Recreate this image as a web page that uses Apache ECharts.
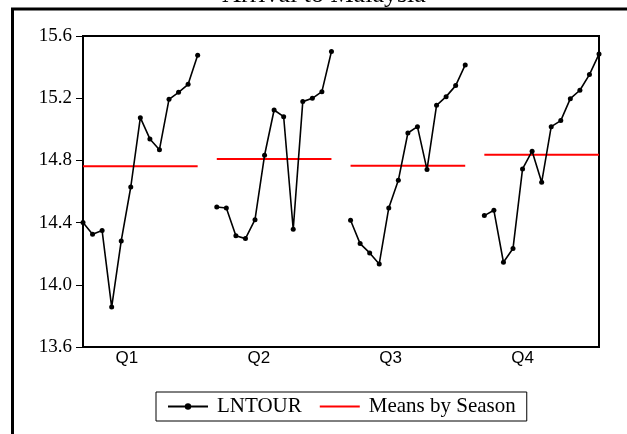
<!DOCTYPE html>
<html>
<head>
<meta charset="utf-8">
<script src="https://cdn.jsdelivr.net/npm/echarts@6/dist/echarts.min.js"></script>
<style>
    html, body { margin: 0; padding: 0; background: #fff; }
    #chartEcharts { width: 627px; height: 434px; }
</style>
</head>
<body>
<div id="chartEcharts"></div>
<script>
// Data
const quarters = ['Q1', 'Q2', 'Q3', 'Q4'];
const lntourQ1 = [14.40, 14.325, 14.349, 13.857, 14.282, 14.629, 15.075, 14.938, 14.869, 15.193, 15.238, 15.289, 15.476];
const lntourQ2 = [14.50, 14.494, 14.316, 14.297, 14.419, 14.833, 15.124, 15.081, 14.357, 15.178, 15.199, 15.242, 15.50];
const lntourQ3 = [14.415, 14.265, 14.205, 14.134, 14.494, 14.672, 14.976, 15.017, 14.741, 15.154, 15.21, 15.281, 15.414];
const lntourQ4 = [14.445, 14.479, 14.145, 14.233, 14.745, 14.859, 14.659, 15.017, 15.056, 15.197, 15.251, 15.352, 15.484];
const seasonMeans = [14.762, 14.809, 14.766, 14.837];
const quarterLabelPos = [4.6, 18.4, 32.2, 46.0];
const groupOffset = 14;

const lntour = [lntourQ1, lntourQ2, lntourQ3, lntourQ4];

let myChart = echarts.init(document.getElementById('chartEcharts'));

let series = [];
for (let i = 0; i < quarters.length; i++) {
    const start = i * groupOffset;
    series.push({
        name: 'LNTOUR',
        type: 'line',
        data: lntour[i].map((v, j) => [start + j, v]),
        symbol: 'circle',
        symbolSize: 5,
        itemStyle: { color: '#000' },
        lineStyle: { color: '#000', width: 1.6 },
        silent: true,
        z: 3
    });
    series.push({
        name: 'Means by Season',
        type: 'line',
        data: [[start, seasonMeans[i]], [start + lntour[i].length - 1, seasonMeans[i]]],
        symbol: 'none',
        itemStyle: { color: '#ff0000' },
        lineStyle: { color: '#ff0000', width: 2 },
        silent: true,
        z: 2
    });
}

const option = {
    backgroundColor: '#fff',
    animation: false,
    graphic: [
        {
            type: 'text',
            x: 324,
            y: -18,
            style: {
                text: 'Arrival to Malaysia',
                font: '26px "Liberation Serif"',
                fill: '#000',
                align: 'center'
            }
        },
        {
            type: 'rect',
            shape: { x: 12.5, y: 9, width: 700, height: 500 },
            style: { fill: 'none', stroke: '#000', lineWidth: 3 },
            z: 10
        }
    ],
    grid: {
        left: 83, right: 28, top: 36, bottom: 87,
        show: true,
        borderColor: '#000',
        borderWidth: 2
    },
    legend: {
        data: [
            { name: 'LNTOUR' },
            { name: 'Means by Season', icon: 'path://M0,0L40,0L40,2L0,2Z' }
        ],
        left: 156,
        top: 392,
        orient: 'horizontal',
        itemWidth: 40,
        itemHeight: 8,
        itemGap: 18,
        padding: [4, 11],
        borderColor: '#000',
        borderWidth: 1,
        selectedMode: false,
        textStyle: {
            fontFamily: 'Liberation Serif',
            fontSize: 21,
            color: '#000',
            padding: [0, 0, 0, 4]
        }
    },
    xAxis: {
        type: 'value',
        min: 0,
        max: 54,
        axisLine: { show: false },
        axisTick: { show: false },
        splitLine: { show: false },
        axisLabel: {
            customValues: quarterLabelPos,
            formatter: v => {
                const k = quarterLabelPos.findIndex(p => Math.abs(p - v) < 1e-6);
                return k >= 0 ? quarters[k] : '';
            },
            fontFamily: 'Liberation Sans',
            fontSize: 17,
            color: '#000',
            margin: 3
        }
    },
    yAxis: {
        type: 'value',
        min: 13.6,
        max: 15.6,
        interval: 0.4,
        axisLine: { show: true, lineStyle: { color: '#000', width: 2 } },
        axisTick: { show: true, length: 7, lineStyle: { color: '#000', width: 1 } },
        splitLine: { show: false },
        axisLabel: {
            formatter: v => v.toFixed(1),
            fontFamily: 'Liberation Serif',
            fontSize: 19,
            color: '#000',
            margin: 11
        }
    },
    series: series
};

myChart.setOption(option, true);
</script>
</body>
</html>
